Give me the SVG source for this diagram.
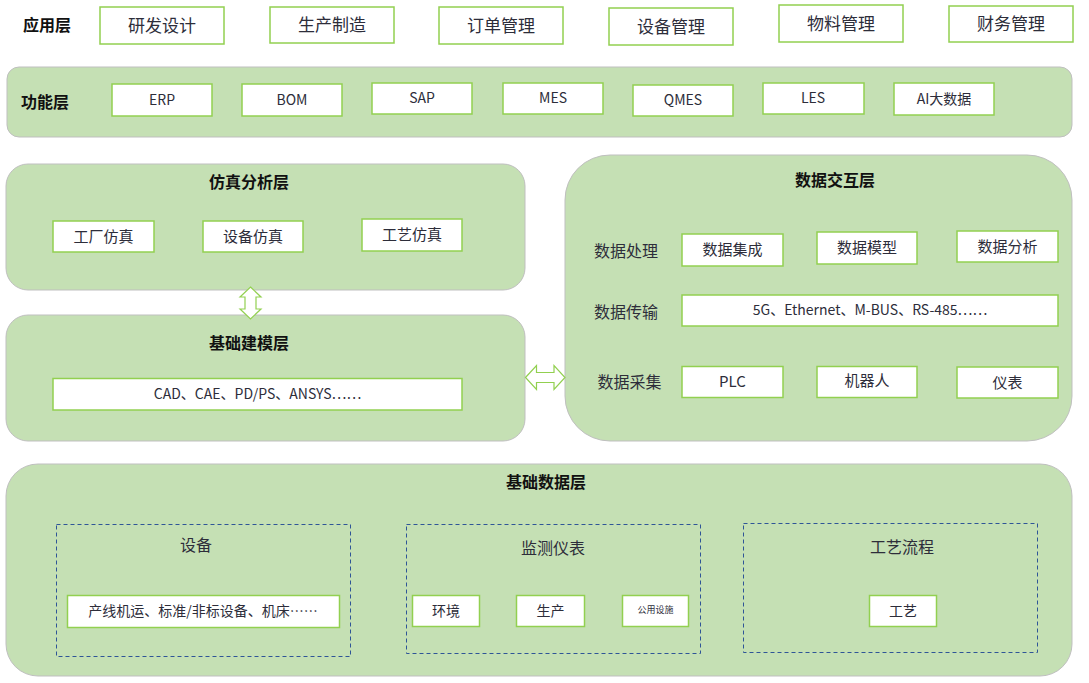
<svg xmlns="http://www.w3.org/2000/svg" width="1089" height="683" viewBox="0 0 1089 683">
<style>
text{font-family:"Noto Sans CJK SC","Noto Sans",sans-serif;dominant-baseline:central;text-anchor:middle;fill:#2d2d3a;transform:translateY(-1.5px)}
.layer{fill:#c5e0b4;stroke:#bfbfbf;stroke-width:1}
.box{fill:#ffffff;stroke:#92d050;stroke-width:1.5}
.dash{fill:none;stroke:#2f5597;stroke-width:1;stroke-dasharray:4 3}
.title{font-weight:bold;font-size:16px;fill:#111}
.t17{font-size:17px}
.t16{font-size:16px}
.t15{font-size:15px}
.t14{font-size:14px}
.arrow{fill:#ffffff;stroke:#92d050;stroke-width:1.2}
</style>

<g id="app-layer">
<text class="title" x="47" y="25">应用层</text>
<g id="app1"><rect class="box" x="100" y="7" width="124" height="37"/><text class="t17" x="162" y="26">研发设计</text></g>
<g id="app2"><rect class="box" x="270" y="7" width="124" height="36"/><text class="t17" x="332" y="25">生产制造</text></g>
<g id="app3"><rect class="box" x="439" y="7" width="124" height="37"/><text class="t17" x="501" y="26">订单管理</text></g>
<g id="app4"><rect class="box" x="609" y="8" width="124" height="37"/><text class="t17" x="671" y="27">设备管理</text></g>
<g id="app5"><rect class="box" x="779" y="5" width="124" height="37"/><text class="t17" x="841" y="24">物料管理</text></g>
<g id="app6"><rect class="box" x="949" y="6" width="124" height="36"/><text class="t17" x="1011" y="24">财务管理</text></g>
</g>

<g id="func-layer">
<rect class="layer" x="7" y="67" width="1065" height="70" rx="12"/>
<text class="title" x="45" y="102">功能层</text>
<g id="f1"><rect class="box" x="112" y="84" width="100" height="32"/><text class="t14" x="162" y="100">ERP</text></g>
<g id="f2"><rect class="box" x="242" y="84" width="100" height="32"/><text class="t14" x="292" y="100">BOM</text></g>
<g id="f3"><rect class="box" x="372" y="83" width="100" height="31"/><text class="t14" x="422" y="98.5">SAP</text></g>
<g id="f4"><rect class="box" x="503" y="83" width="100" height="31"/><text class="t14" x="553" y="98.5">MES</text></g>
<g id="f5"><rect class="box" x="633" y="85" width="100" height="31"/><text class="t14" x="683" y="100.5">QMES</text></g>
<g id="f6"><rect class="box" x="763" y="83" width="101" height="31"/><text class="t14" x="813" y="98.5">LES</text></g>
<g id="f7"><rect class="box" x="894" y="83" width="100" height="32"/><text class="t14" x="944" y="99">AI大数据</text></g>
</g>

<g id="sim-layer">
<rect class="layer" x="6" y="164" width="519" height="126" rx="22"/>
<text class="title" x="249" y="182">仿真分析层</text>
<g id="s1"><rect class="box" x="53" y="221" width="101" height="31"/><text class="t15" x="103.5" y="236.5">工厂仿真</text></g>
<g id="s2"><rect class="box" x="203" y="221" width="100" height="31"/><text class="t15" x="253" y="236.5">设备仿真</text></g>
<g id="s3"><rect class="box" x="362" y="219" width="100" height="32"/><text class="t15" x="412" y="235">工艺仿真</text></g>
</g>

<g id="model-layer">
<rect class="layer" x="6" y="315" width="519" height="126" rx="22"/>
<text class="title" x="249" y="343">基础建模层</text>
<g id="m1"><rect class="box" x="53" y="378.5" width="409" height="31.5"/><text class="t14" x="257.5" y="394.5">CAD、CAE、PD/PS、ANSYS……</text></g>
</g>

<g id="data-layer">
<rect class="layer" x="565" y="155" width="507" height="286" rx="45"/>
<text class="title" x="835" y="180">数据交互层</text>
<text class="t16" x="626" y="251">数据处理</text>
<text class="t16" x="626" y="312">数据传输</text>
<text class="t16" x="629.5" y="382">数据采集</text>
<g id="d1"><rect class="box" x="682" y="234" width="101" height="32"/><text class="t15" x="732.5" y="250">数据集成</text></g>
<g id="d2"><rect class="box" x="817" y="232" width="100" height="32"/><text class="t15" x="867" y="248">数据模型</text></g>
<g id="d3"><rect class="box" x="957" y="231" width="101" height="31"/><text class="t15" x="1007.5" y="246.5">数据分析</text></g>
<g id="d4"><rect class="box" x="682" y="295" width="376" height="31"/><text class="t14" x="870" y="310.5">5G、Ethernet、M-BUS、RS-485……</text></g>
<g id="d5"><rect class="box" x="682" y="366.5" width="101" height="31"/><text class="t15" x="732.5" y="382">PLC</text></g>
<g id="d6"><rect class="box" x="817" y="366.5" width="100" height="31"/><text class="t15" x="867" y="381">机器人</text></g>
<g id="d7"><rect class="box" x="957" y="367" width="101" height="31"/><text class="t15" x="1007.5" y="383">仪表</text></g>
</g>

<g id="base-layer">
<rect class="layer" x="6" y="464" width="1066" height="212" rx="32"/>
<text class="title" x="546" y="482">基础数据层</text>
<g id="b-equip">
<rect class="dash" x="56.5" y="524.5" width="294" height="132"/>
<text class="t16" x="196" y="545">设备</text>
<rect class="box" x="67.5" y="595.5" width="272" height="32"/>
<text class="t14" x="203" y="611">产线机运、标准/非标设备、机床……</text>
</g>
<g id="b-meter">
<rect class="dash" x="406.5" y="524.5" width="294" height="129"/>
<text class="t16" x="553" y="548">监测仪表</text>
<rect class="box" x="412.5" y="595.5" width="67" height="31"/>
<text class="t14" x="446" y="611">环境</text>
<rect class="box" x="516.5" y="595.5" width="68" height="31"/>
<text class="t14" x="550.5" y="611">生产</text>
<rect class="box" x="622.5" y="595.5" width="66" height="31"/>
<text x="655.5" y="610.5" style="font-size:9px">公用设施</text>
</g>
<g id="b-process">
<rect class="dash" x="743.5" y="523.5" width="294" height="129"/>
<text class="t16" x="902" y="547">工艺流程</text>
<rect class="box" x="869.5" y="595.5" width="67" height="31"/>
<text class="t14" x="903" y="611">工艺</text>
</g>
</g>

<g id="connectors">
<path class="arrow" d="M250.5,287 L261,297 L256,297 L256,309 L261,309 L250.5,319 L240,309 L245,309 L245,297 L240,297 Z"/>
<path class="arrow" d="M525.5,377.5 L536.5,365.5 L536.5,372.5 L554,372.5 L554,365.5 L565,377.5 L554,389.5 L554,382.5 L536.5,382.5 L536.5,389.5 Z"/>
</g>
</svg>
